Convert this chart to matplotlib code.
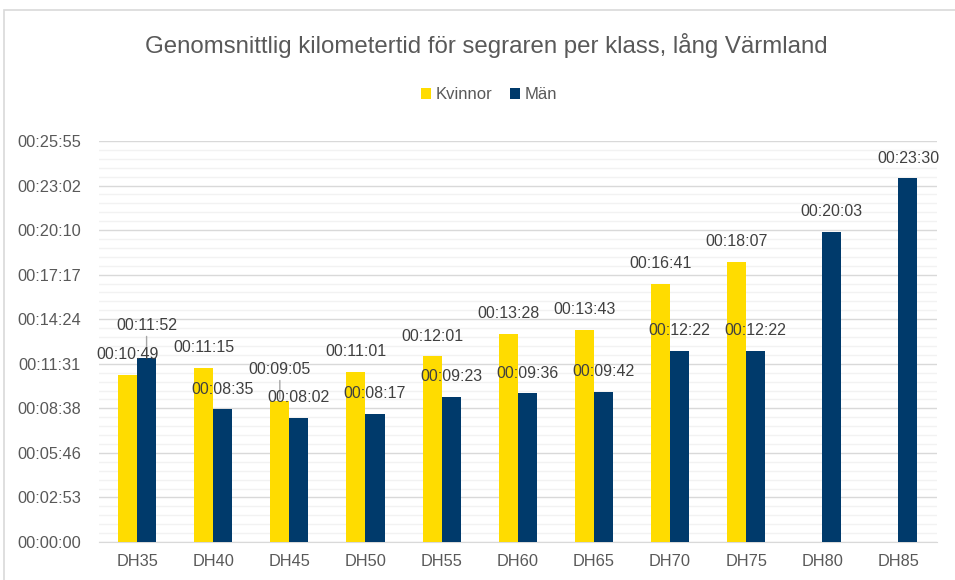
import numpy as np
import matplotlib.pyplot as plt
from matplotlib.patches import Rectangle
from matplotlib.ticker import MultipleLocator, FuncFormatter

plt.rcParams['font.family'] = ['Liberation Sans', 'DejaVu Sans']

# data (times as h:m:s, None = no value)
classes = ['DH35', 'DH40', 'DH45', 'DH50', 'DH55', 'DH60', 'DH65', 'DH70', 'DH75', 'DH80', 'DH85']
kvinnor = ['00:10:49', '00:11:15', '00:09:05', '00:11:01', '00:12:01', '00:13:28', '00:13:43',
           '00:16:41', '00:18:07', None, None]
man = ['00:11:52', '00:08:35', '00:08:02', '00:08:17', '00:09:23', '00:09:36', '00:09:42',
       '00:12:22', '00:12:22', '00:20:03', '00:23:30']


def to_sec(s):
    if s is None:
        return np.nan
    h, m, sec = s.split(':')
    return int(h) * 3600 + int(m) * 60 + int(sec)


def fmt_time(v, pos=None):
    t = int(round(v))
    return f'{t // 3600:02d}:{(t % 3600) // 60:02d}:{t % 60:02d}'


k_sec = np.array([to_sec(s) for s in kvinnor])
m_sec = np.array([to_sec(s) for s in man])

yellow = '#FFDC00'
navy = '#003A6B'
text_col = '#595959'
label_col = '#404040'
PT = 0.72  # points per pixel at dpi 100

fig = plt.figure(figsize=(9.55, 5.8), dpi=100)
ax = fig.add_axes([99 / 955, 1 - 542 / 580, (936.5 - 99) / 955, (542 - 141) / 580])

# outer chart border
fig.patches.append(Rectangle((4 / 955, -0.05), 1.0, 1 - 10 / 580 + 0.05, transform=fig.transFigure,
                             fill=False, edgecolor='#d9d9d9', linewidth=1.2))

x = np.arange(len(classes))
w = 0.25
ax.bar(x - w / 2, k_sec, w, color=yellow, label='Kvinnor', zorder=3)
ax.bar(x + w / 2, m_sec, w, color=navy, label='Män', zorder=3)

# data labels, two of them moved up with a leader line as in the original
moved = {('m', 0): 33, ('k', 2): 32}
for key, vals, dx in (('k', k_sec, -w / 2), ('m', m_sec, w / 2)):
    for i, v in enumerate(vals):
        if np.isnan(v):
            continue
        off = moved.get((key, i), 20)
        ax.annotate(fmt_time(v), (x[i] + dx, v), xytext=(0, off * PT),
                    textcoords='offset points', ha='center', va='center',
                    fontsize=11.5, color=label_col, zorder=5)
        if (key, i) in moved:
            ax.annotate('', (x[i] + dx, v), xytext=(0, (off - 11) * PT),
                        textcoords='offset points',
                        arrowprops=dict(arrowstyle='-', color='#a6a6a6', lw=1,
                                        shrinkA=0, shrinkB=2), zorder=4)

step = 172.8
ax.set_ylim(0, 9 * step)
ax.set_xlim(-0.5, len(classes) - 0.5)
ax.yaxis.set_major_locator(MultipleLocator(step))
ax.yaxis.set_minor_locator(MultipleLocator(step / 5))
ax.yaxis.set_major_formatter(FuncFormatter(fmt_time))
ax.grid(axis='y', which='major', color='#d9d9d9', linewidth=1, zorder=0)
ax.grid(axis='y', which='minor', color='#f2f2f2', linewidth=1, zorder=0)
ax.set_axisbelow(True)

ax.set_xticks(x)
ax.set_xticklabels(classes)
ax.tick_params(axis='both', which='both', length=0, labelsize=11.8, colors=text_col)
ax.tick_params(axis='x', pad=9)
ax.tick_params(axis='y', pad=13)
for side in ('left', 'right', 'top'):
    ax.spines[side].set_visible(False)
ax.spines['bottom'].set_color('#d9d9d9')

fig.text(486 / 955, 1 - 45 / 580, 'Genomsnittlig kilometertid för segraren per klass, lång Värmland',
         ha='center', va='center', fontsize=17.3, color=text_col)
fig.legend(loc='center', bbox_to_anchor=(489 / 955, 1 - 95 / 580), ncol=2, frameon=False,
           fontsize=12, labelcolor=text_col, handlelength=0.6, handleheight=0.6,
           handletextpad=0.25, columnspacing=1.1)

fig.savefig('out.png', dpi=100)
